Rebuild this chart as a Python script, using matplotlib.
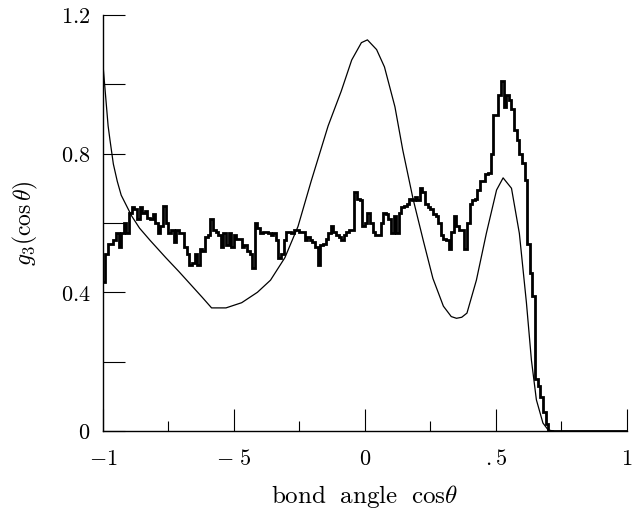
import numpy as np
import matplotlib
matplotlib.use("Agg")
import matplotlib.pyplot as plt

plt.rcParams["mathtext.fontset"] = "cm"
plt.rcParams["font.family"] = ["DejaVu Serif"]

# simulated three-body bond angle distribution, bins of 0.01 from -1 to 1
bin_start = -1.0
bin_width = 0.01
g3_hist = [
    0.43, 0.51, 0.54, 0.54, 0.55, 0.57, 0.53, 0.57, 0.60, 0.57,
    0.63, 0.645, 0.64, 0.61, 0.645, 0.63, 0.635, 0.615, 0.61, 0.625,
    0.60, 0.57, 0.59, 0.65, 0.60, 0.57, 0.58, 0.545, 0.58, 0.57,
    0.57, 0.53, 0.51, 0.48, 0.485, 0.51, 0.48, 0.525, 0.52, 0.56,
    0.565, 0.61, 0.58, 0.575, 0.565, 0.53, 0.57, 0.535, 0.57, 0.53,
    0.565, 0.555, 0.555, 0.53, 0.535, 0.52, 0.51, 0.47, 0.60, 0.585,
    0.57, 0.575, 0.575, 0.57, 0.565, 0.57, 0.55, 0.50, 0.51, 0.55,
    0.575, 0.575, 0.57, 0.58, 0.58, 0.575, 0.575, 0.55, 0.56, 0.55,
    0.545, 0.53, 0.48, 0.535, 0.54, 0.555, 0.57, 0.59, 0.575, 0.565,
    0.56, 0.55, 0.565, 0.575, 0.58, 0.58, 0.69, 0.67, 0.665, 0.59,
    0.60, 0.63, 0.60, 0.575, 0.565, 0.565, 0.60, 0.63, 0.625, 0.61,
    0.57, 0.62, 0.57, 0.63, 0.645, 0.65, 0.655, 0.67, 0.665, 0.675,
    0.665, 0.70, 0.69, 0.655, 0.645, 0.64, 0.625, 0.62, 0.60, 0.565,
    0.555, 0.55, 0.525, 0.575, 0.62, 0.59, 0.58, 0.58, 0.525, 0.60,
    0.655, 0.665, 0.67, 0.695, 0.72, 0.72, 0.74, 0.745, 0.80, 0.91,
    0.91, 0.97, 1.01, 0.935, 0.97, 0.955, 0.93, 0.868, 0.84, 0.80,
    0.772, 0.724, 0.54, 0.455, 0.39, 0.15, 0.13, 0.098, 0.055, 0.021,
    0.0, 0.0, 0.0, 0.0, 0.0, 0.0, 0.0, 0.0, 0.0, 0.0,
    0.0, 0.0, 0.0, 0.0, 0.0, 0.0, 0.0, 0.0, 0.0, 0.0,
    0.0, 0.0, 0.0, 0.0, 0.0, 0.0, 0.0, 0.0, 0.0, 0.0,
]

# smooth reference curve
curve_x = [-1.0, -0.99, -0.98, -0.973, -0.96, -0.945, -0.93, -0.91, -0.89,
           -0.86, -0.82, -0.76, -0.71, -0.65, -0.62, -0.585, -0.56, -0.53,
           -0.47, -0.41, -0.36, -0.305, -0.255, -0.205, -0.14, -0.09, -0.05,
           -0.013, 0.01, 0.045, 0.075, 0.115, 0.145, 0.184, 0.223, 0.26,
           0.30, 0.33, 0.35, 0.37, 0.39, 0.426, 0.464, 0.503, 0.528, 0.56,
           0.59, 0.617, 0.636, 0.655, 0.68, 0.70, 0.72]
curve_y = [1.06, 0.97, 0.88, 0.84, 0.77, 0.72, 0.68, 0.65, 0.62,
           0.585, 0.55, 0.50, 0.46, 0.41, 0.385, 0.355, 0.355, 0.355,
           0.37, 0.40, 0.435, 0.50, 0.59, 0.72, 0.88, 0.98, 1.07,
           1.12, 1.128, 1.10, 1.05, 0.935, 0.81, 0.67, 0.55, 0.44,
           0.36, 0.33, 0.325, 0.328, 0.34, 0.435, 0.57, 0.695, 0.73, 0.70,
           0.57, 0.37, 0.205, 0.09, 0.023, 0.003, 0.0]

x_major = [-1, -0.5, 0, 0.5, 1]
x_major_labels = [r"$-1$", r"$-\ 5$", r"$0$", r"$.5$", r"$1$"]
x_minor = [-0.75, -0.25, 0.25, 0.75]
y_major = [0, 0.2, 0.4, 0.6, 0.8, 1.0, 1.2]
y_major_labels = [r"$0$", "", r"$0.4$", "", r"$0.8$", "", r"$1.2$"]

fig = plt.figure(figsize=(6.35, 5.14), dpi=100)
ax = fig.add_axes([0.162, 0.1615, 0.825, 0.8095])

edges = bin_start + bin_width * np.arange(len(g3_hist) + 1)
ax.stairs(g3_hist, edges, baseline=None, color="black", linewidth=2.0)
ax.plot(curve_x, curve_y, color="black", linewidth=0.9)

ax.set_xlim(-1, 1)
ax.set_ylim(0, 1.2)

for side in ["top", "right"]:
    ax.spines[side].set_visible(False)
for side in ["left", "bottom"]:
    ax.spines[side].set_linewidth(1.0)

ax.set_xticks(x_major)
ax.set_xticklabels(x_major_labels)
ax.set_xticks(x_minor, minor=True)
ax.set_yticks(y_major)
ax.set_yticklabels(y_major_labels)

ax.tick_params(axis="x", which="major", direction="in", length=16, width=0.8,
               pad=12, labelsize=16)
ax.tick_params(axis="x", which="minor", direction="in", length=7.5, width=0.8)
ax.tick_params(axis="y", which="major", direction="in", length=16, width=0.8,
               pad=9, labelsize=16)

ax.set_xlabel(r"$\mathrm{bond\ \ angle\ \ cos}\theta$", fontsize=18)
ax.xaxis.set_label_coords(0.5, -0.125)
ax.set_ylabel(r"$g_3(\cos\theta)$", fontsize=17)
ax.yaxis.set_label_coords(-0.12, 0.5)

fig.savefig("out.png", dpi=100)
